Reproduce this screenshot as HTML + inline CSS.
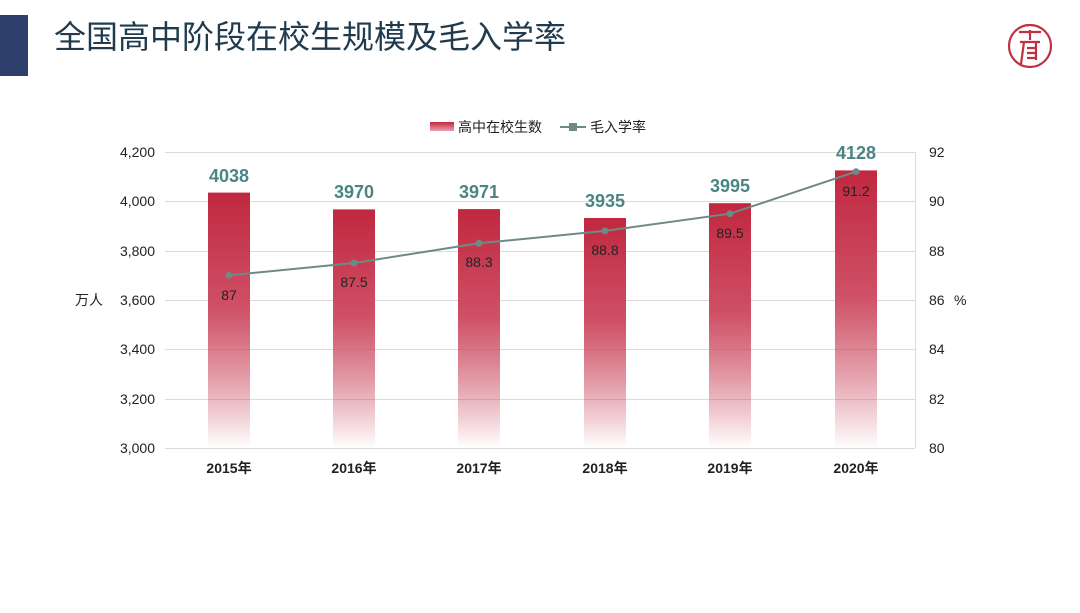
<!DOCTYPE html>
<html><head><meta charset="utf-8"><style>
body{margin:0;width:1080px;height:608px;background:#fff;overflow:hidden;font-family:"Liberation Sans","Noto Sans CJK SC",sans-serif}
</style></head><body>
<svg width="1080" height="608" xmlns="http://www.w3.org/2000/svg" font-family="Liberation Sans, Noto Sans CJK SC, sans-serif">
<defs>
<linearGradient id="g" x1="0" y1="0" x2="0" y2="1" gradientUnits="objectBoundingBox">
<stop offset="0" stop-color="#c0283f"/><stop offset="0.45" stop-color="#cf5066"/><stop offset="1" stop-color="#c0283f" stop-opacity="0"/>
</linearGradient>
<linearGradient id="lg" x1="0" y1="0" x2="0" y2="1"><stop offset="0" stop-color="#c0283f"/><stop offset="1" stop-color="#e8a0ad"/></linearGradient>
</defs>
<rect x="0" y="15" width="28" height="61" fill="#2f3f6b"/>
<text x="54" y="48" font-size="32" fill="#1f3b4d">全国高中阶段在校生规模及毛入学率</text>
<g fill="none" stroke="#c03040" stroke-width="2.2">
<circle cx="1030" cy="46" r="21"/>
<path d="M1019 32 h22 M1030 30 v10 M1020 42 h20 M1024 42 l-3 22 M1036 42 v18 M1027 48 h8 M1027 53 h8 M1027 58 h8"/>
</g>
<g stroke="#dcdcdc" stroke-width="1">
<line x1="165" y1="152.5" x2="915" y2="152.5"/><line x1="165" y1="201.5" x2="915" y2="201.5"/>
<line x1="165" y1="251.5" x2="915" y2="251.5"/><line x1="165" y1="300.5" x2="915" y2="300.5"/>
<line x1="165" y1="349.5" x2="915" y2="349.5"/><line x1="165" y1="399.5" x2="915" y2="399.5"/>
<line x1="165" y1="448.5" x2="915" y2="448.5"/><line x1="915.5" y1="152" x2="915.5" y2="448"/>
</g>
<g font-size="14" fill="#222" text-anchor="end">
<text x="155" y="157">4,200</text><text x="155" y="206">4,000</text><text x="155" y="256">3,800</text>
<text x="155" y="305">3,600</text><text x="155" y="354">3,400</text><text x="155" y="404">3,200</text><text x="155" y="453">3,000</text>
<text x="103" y="305">万人</text>
</g>
<g font-size="14" fill="#222">
<text x="929" y="157">92</text><text x="929" y="206">90</text><text x="929" y="256">88</text><text x="929" y="305">86</text>
<text x="929" y="354">84</text><text x="929" y="404">82</text><text x="929" y="453">80</text><text x="954" y="305">%</text>
</g>
<g fill="url(#g)">
<rect x="208" y="192.6" width="42" height="255.4"/>
<rect x="333" y="209.4" width="42" height="238.6"/>
<rect x="458" y="209.1" width="42" height="238.9"/>
<rect x="584" y="218" width="42" height="230"/>
<rect x="709" y="203.2" width="42" height="244.8"/>
<rect x="835" y="170.4" width="42" height="277.6"/>
</g>
<g font-size="18" font-weight="bold" fill="#4a8583" text-anchor="middle">
<text x="229" y="182">4038</text><text x="354" y="198">3970</text><text x="479" y="198">3971</text>
<text x="605" y="207">3935</text><text x="730" y="192">3995</text><text x="856" y="159">4128</text>
</g>
<polyline points="229,275.3 354,263 479,243.3 605,230.9 730,213.7 856,171.7" fill="none" stroke="#6f8a86" stroke-width="2"/>
<g fill="#6f8a86">
<circle cx="229" cy="275.3" r="3.5"/><circle cx="354" cy="263" r="3.5"/><circle cx="479" cy="243.3" r="3.5"/>
<circle cx="605" cy="230.9" r="3.5"/><circle cx="730" cy="213.7" r="3.5"/><circle cx="856" cy="171.7" r="3.5"/>
</g>
<g font-size="14" fill="#222" text-anchor="middle">
<text x="229" y="300">87</text><text x="354" y="287">87.5</text><text x="479" y="267">88.3</text>
<text x="605" y="255">88.8</text><text x="730" y="238">89.5</text><text x="856" y="196">91.2</text>
</g>
<g font-size="14" font-weight="bold" fill="#222" text-anchor="middle">
<text x="229" y="473">2015年</text><text x="354" y="473">2016年</text><text x="479" y="473">2017年</text>
<text x="605" y="473">2018年</text><text x="730" y="473">2019年</text><text x="856" y="473">2020年</text>
</g>
<rect x="430" y="122" width="24" height="9" fill="url(#lg)"/>
<text x="458" y="132" font-size="14" fill="#222">高中在校生数</text>
<line x1="560" y1="127" x2="586" y2="127" stroke="#6f8a86" stroke-width="2"/>
<rect x="569" y="123" width="8" height="8" fill="#6f8a86"/>
<text x="590" y="132" font-size="14" fill="#222">毛入学率</text>
</svg>
</body></html>
